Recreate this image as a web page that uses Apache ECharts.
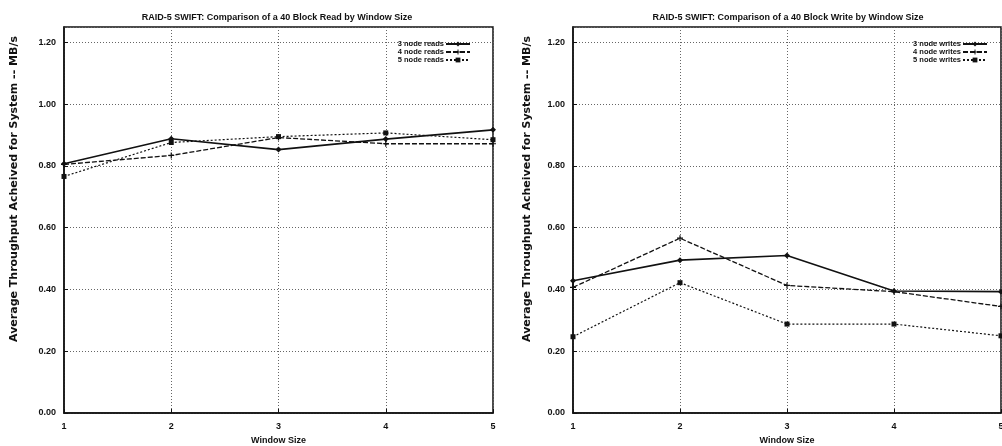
<!DOCTYPE html>
<html><head><meta charset="utf-8">
<script src="https://cdn.jsdelivr.net/npm/echarts@6/dist/echarts.min.js"></script>
<style>html,body{margin:0;padding:0;background:#fff}#c{width:1002px;height:446px}</style>
</head><body><div id="c"></div>
<script>
const windowSizes = [1, 2, 3, 4, 5];
const read3 = [0.807, 0.888, 0.853, 0.887, 0.917];
const read4 = [0.805, 0.834, 0.892, 0.872, 0.872];
const read5 = [0.766, 0.876, 0.895, 0.907, 0.885];
const write3 = [0.428, 0.495, 0.510, 0.395, 0.393];
const write4 = [0.407, 0.566, 0.413, 0.393, 0.345];
const write5 = [0.247, 0.422, 0.288, 0.288, 0.250];
const titles = ['RAID-5 SWIFT: Comparison of a 40 Block Read by Window Size',
                'RAID-5 SWIFT: Comparison of a 40 Block Write by Window Size'];
const readNames = ['3 node reads', '4 node reads', '5 node reads'];
const writeNames = ['3 node writes', '4 node writes', '5 node writes'];
const yName = 'Average Throughput Acheived for System -- MB/s';
const xName = 'Window Size';

const FONT = 'Liberation Sans';
const INK = '#111';
const plus = 'path://M4,0L6,0L6,4L10,4L10,6L6,6L6,10L4,10L4,6L0,6L0,4L4,4Z';
const styles = [
  {symbol: 'diamond', size: 6, type: 'solid', width: 1.6},
  {symbol: plus, size: 6, type: [5, 2], width: 1.3},
  {symbol: 'rect', size: 5, type: [2, 2], width: 1.2}
];
const pairs = v => windowSizes.map((x, i) => [x, v[i]]);

function mkSeries(names, arrs, gi) {
  return names.map((n, k) => ({
    name: n, type: 'line', xAxisIndex: gi, yAxisIndex: gi,
    data: pairs(arrs[k]), symbol: styles[k].symbol, symbolSize: styles[k].size,
    showSymbol: true, animation: false,
    lineStyle: {color: INK, width: styles[k].width, type: styles[k].type},
    itemStyle: {color: INK}
  }));
}

const grids = [
  {left: 64, width: 429, top: 27, height: 386},
  {left: 573, width: 428, top: 27, height: 386}
];
const gridCfg = grids.map(g => Object.assign({show: true, borderColor: INK, borderWidth: 1.5,
  backgroundColor: 'transparent', containLabel: false, outerBoundsMode: 'none'}, g));

const xAxes = [0, 1].map(i => ({
  type: 'value', gridIndex: i, min: 1, max: 5, interval: 1,
  name: xName, nameLocation: 'middle', nameGap: 18,
  nameTextStyle: {fontFamily: FONT, fontSize: 9, fontWeight: 'bold', color: INK},
  axisLine: {show: true, lineStyle: {color: INK, width: 1.5}},
  axisTick: {show: true, inside: true, length: 4, lineStyle: {color: INK}},
  axisLabel: {fontFamily: FONT, fontSize: 9, fontWeight: 'bold', color: INK, margin: 9},
  splitLine: {show: true, lineStyle: {color: '#666', type: [1, 2], width: 1}}
}));
const yAxes = [0, 1].map(i => ({
  type: 'value', gridIndex: i, min: 0, max: 1.25, interval: 0.2,
  axisLine: {show: true, lineStyle: {color: INK, width: 1.5}},
  axisTick: {show: true, inside: true, length: 4, lineStyle: {color: INK}},
  axisLabel: {fontFamily: FONT, fontSize: 9, fontWeight: 'bold', color: INK, margin: 8,
              showMaxLabel: false, formatter: v => v.toFixed(2)},
  splitLine: {show: true, lineStyle: {color: '#666', type: [1, 2], width: 1}}
}));

const legendBase = {
  orient: 'vertical', align: 'right', top: 40, padding: 0, itemWidth: 24, itemHeight: 6, itemGap: 0,
  textStyle: {fontFamily: FONT, fontSize: 7.5, fontWeight: 'bold', color: INK,
              lineHeight: 8, padding: [0, -3, 0, 0]},
  inactiveColor: '#999'
};

const option = {
  backgroundColor: '#fff',
  animation: false,
  title: [
    {text: titles[0], left: 272, top: 8, textAlign: 'center',
     textStyle: {fontFamily: FONT, fontSize: 9, fontWeight: 'bold', color: INK}},
    {text: titles[1], left: 783, top: 8, textAlign: 'center',
     textStyle: {fontFamily: FONT, fontSize: 9, fontWeight: 'bold', color: INK}}
  ],
  grid: gridCfg,
  xAxis: xAxes,
  yAxis: yAxes,
  legend: [
    Object.assign({data: readNames, right: 531}, legendBase),
    Object.assign({data: writeNames, right: 14}, legendBase)
  ],
  graphic: [
    {type: 'text', x: 14, y: 189, rotation: Math.PI / 2,
     style: {text: yName, fontFamily: 'DejaVu Sans', fontSize: 11, fontWeight: 'bold', fill: INK, align: 'center', verticalAlign: 'middle'}},
    {type: 'text', x: 527, y: 189, rotation: Math.PI / 2,
     style: {text: yName, fontFamily: 'DejaVu Sans', fontSize: 11, fontWeight: 'bold', fill: INK, align: 'center', verticalAlign: 'middle'}}
  ],
  series: mkSeries(readNames, [read3, read4, read5], 0).concat(mkSeries(writeNames, [write3, write4, write5], 1))
};
const chart = echarts.init(document.getElementById('c'), null, {renderer: 'canvas'});
chart.setOption(option);
</script></body></html>
